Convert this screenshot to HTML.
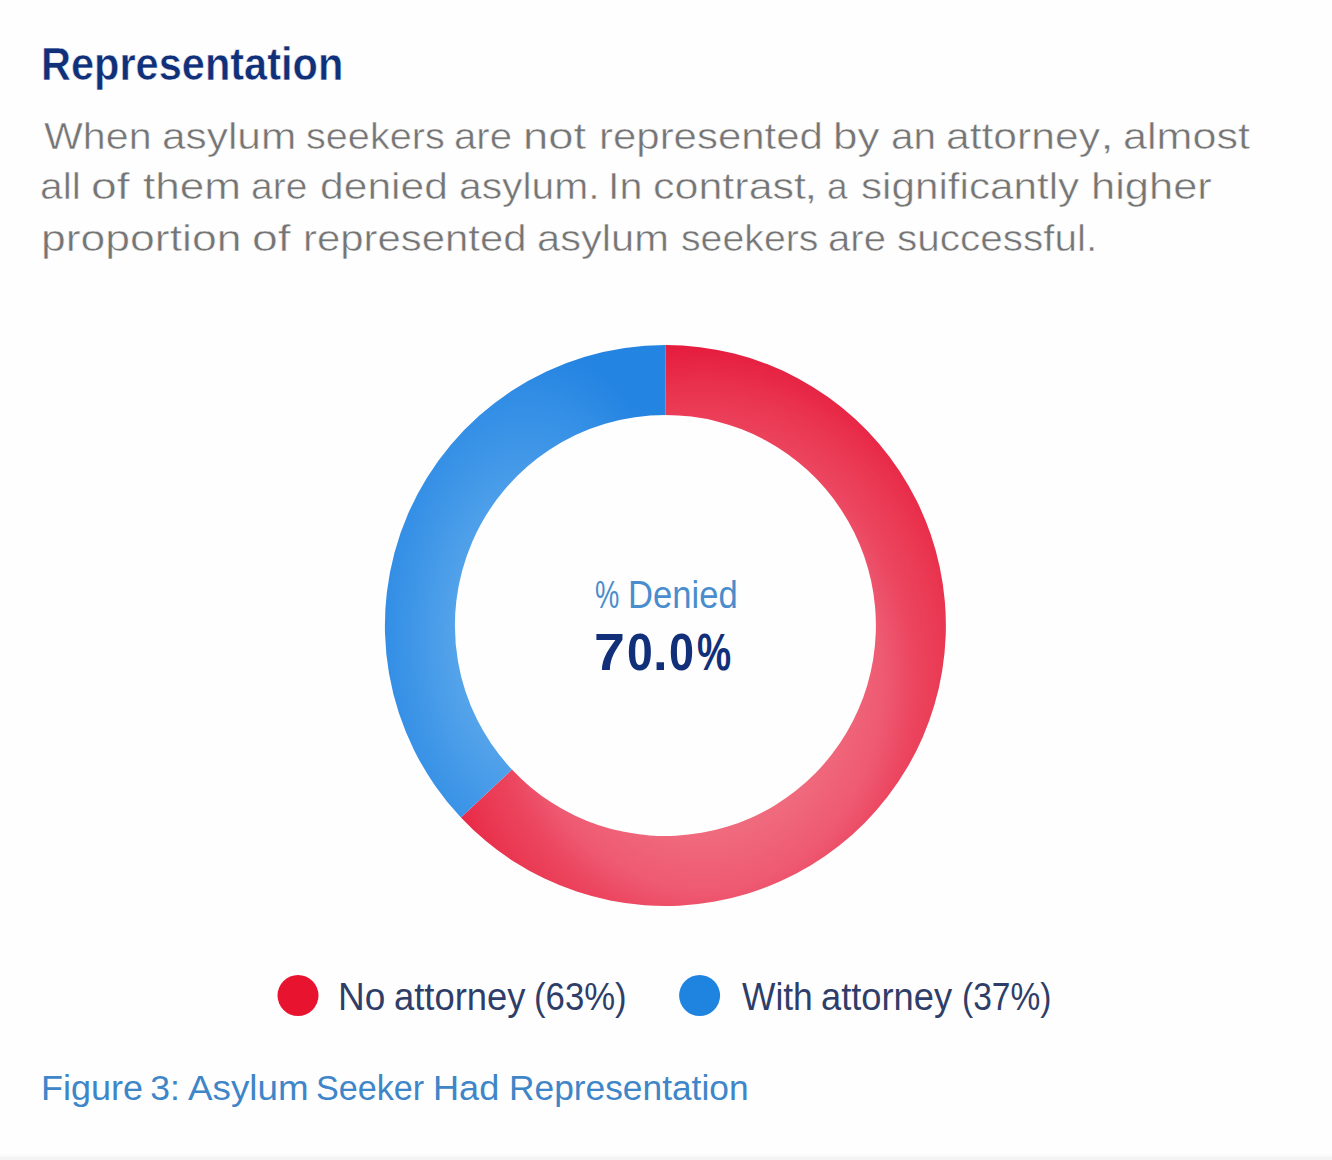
<!DOCTYPE html>
<html>
<head>
<meta charset="utf-8">
<style>
html,body{margin:0;padding:0;}
body{width:1332px;height:1160px;background:#fefefe;position:relative;overflow:hidden;font-family:"Liberation Sans",sans-serif;}
.t{position:absolute;white-space:nowrap;line-height:1;transform-origin:0 0;}
.w{font-size:37.5px;color:#757575;-webkit-text-stroke:0.5px #fefefe;}
.ti{font-size:46px;font-weight:bold;color:#11307a;-webkit-text-stroke:0.5px #fefefe;}
.c1{font-size:38px;color:#4a8dcc;}
.c2{font-size:52px;font-weight:bold;color:#12307a;}
.lg{font-size:38px;color:#2f3e68;}
.cp{font-size:35.5px;color:#3f86c8;}
svg{position:absolute;left:0;top:0;}
</style>
</head>
<body>
<svg width="1332" height="1160" viewBox="0 0 1332 1160">
<defs>
<radialGradient id="gr" cx="0.5" cy="0.6" r="0.6">
<stop offset="0.45" stop-color="#f06a7e"/>
<stop offset="0.62" stop-color="#ee5a72"/>
<stop offset="0.72" stop-color="#ec4660"/>
<stop offset="0.85" stop-color="#ea3650"/>
<stop offset="1" stop-color="#e51c3e"/>
</radialGradient>
<radialGradient id="gb" cx="0.5" cy="0.62" r="0.62">
<stop offset="0.35" stop-color="#58a6eb"/>
<stop offset="0.75" stop-color="#3791e6"/>
<stop offset="1" stop-color="#2484e2"/>
</radialGradient>
<linearGradient id="bar" x1="0" y1="0" x2="0" y2="1">
<stop offset="0" stop-color="#ffffff"/>
<stop offset="0.45" stop-color="#fbfbfb"/>
<stop offset="0.7" stop-color="#f3f3f3"/>
<stop offset="1" stop-color="#f3f3f3"/>
</linearGradient>
</defs>
<rect x="0" y="1152" width="1332" height="8" fill="url(#bar)"/>
<path fill="url(#gr)" d="M665.40 345.00 A280.5 280.5 0 1 1 460.92 817.52 L511.95 769.60 A210.5 210.5 0 1 0 665.40 415.00 Z"/>
<path fill="url(#gb)" d="M460.92 817.52 A280.5 280.5 0 0 1 665.40 345.00 L665.40 415.00 A210.5 210.5 0 0 0 511.95 769.60 Z"/>
<circle cx="298" cy="995.5" r="20.5" fill="#e8132f"/>
<circle cx="699.6" cy="995.5" r="20.5" fill="#1f84e0"/>
</svg>

<div class="t w" style="left:43.6px;top:117.5px;transform:scaleX(1.0979)">When</div>
<div class="t w" style="left:161.54px;top:117.5px;transform:scaleX(1.1298)">asylum</div>
<div class="t w" style="left:306.34px;top:117.5px;transform:scaleX(1.0566)">seekers</div>
<div class="t w" style="left:453.86px;top:117.5px;transform:scaleX(1.0706)">are</div>
<div class="t w" style="left:523.08px;top:117.5px;transform:scaleX(1.21)">not</div>
<div class="t w" style="left:598.86px;top:117.5px;transform:scaleX(1.1189)">represented</div>
<div class="t w" style="left:832.95px;top:117.5px;transform:scaleX(1.173)">by</div>
<div class="t w" style="left:890.64px;top:117.5px;transform:scaleX(1.0811)">an</div>
<div class="t w" style="left:946.23px;top:117.5px;transform:scaleX(1.1361)">attorney</div>
<div class="t w" style="left:1100.35px;top:117.5px;transform:scaleX(1.35)">,</div>
<div class="t w" style="left:1123.1px;top:117.5px;transform:scaleX(1.1491)">almost</div>
<div class="t w" style="left:40.22px;top:168.0px;transform:scaleX(1.0879)">all</div>
<div class="t w" style="left:90.73px;top:168.0px;transform:scaleX(1.2345)">of</div>
<div class="t w" style="left:142.7px;top:168.0px;transform:scaleX(1.1765)">them</div>
<div class="t w" style="left:250.92px;top:168.0px;transform:scaleX(1.0392)">are</div>
<div class="t w" style="left:320.03px;top:168.0px;transform:scaleX(1.1361)">denied</div>
<div class="t w" style="left:458.82px;top:168.0px;transform:scaleX(1.0887)">asylum.</div>
<div class="t w" style="left:607.7px;top:168.0px;transform:scaleX(1.1)">In</div>
<div class="t w" style="left:653.41px;top:168.0px;transform:scaleX(1.1473)">contrast</div>
<div class="t w" style="left:804.1px;top:168.0px;transform:scaleX(1.3)">,</div>
<div class="t w" style="left:827.03px;top:168.0px;transform:scaleX(0.9842)">a</div>
<div class="t w" style="left:861.37px;top:168.0px;transform:scaleX(1.1254)">significantly</div>
<div class="t w" style="left:1090.52px;top:168.0px;transform:scaleX(1.1584)">higher</div>
<div class="t w" style="left:41.23px;top:220.0px;transform:scaleX(1.1867)">proportion</div>
<div class="t w" style="left:251.73px;top:220.0px;transform:scaleX(1.2345)">of</div>
<div class="t w" style="left:302.77px;top:220.0px;transform:scaleX(1.1173)">represented</div>
<div class="t w" style="left:536.78px;top:220.0px;transform:scaleX(1.1105)">asylum</div>
<div class="t w" style="left:680.65px;top:220.0px;transform:scaleX(1.0465)">seekers</div>
<div class="t w" style="left:828.16px;top:220.0px;transform:scaleX(1.0686)">are</div>
<div class="t w" style="left:897.42px;top:220.0px;transform:scaleX(1.0801)">successful.</div>
<div class="t ti" style="left:41.29px;top:41.0px;transform:scaleX(0.9027)">Representation</div>
<div class="t c1" style="left:595.28px;top:575.5px;transform:scaleX(0.7188)">%</div>
<div class="t c1" style="left:628.37px;top:575.5px;transform:scaleX(0.9104)">Denied</div>
<div class="t c2" style="left:594.46px;top:626.3px;transform:scaleX(1.068)">7</div>
<div class="t c2" style="left:626.62px;top:626.3px;transform:scaleX(0.892)">0</div>
<div class="t c2" style="left:653.06px;top:626.3px;transform:scaleX(1.0125)">.</div>
<div class="t c2" style="left:669.47px;top:626.3px;transform:scaleX(0.864)">0</div>
<div class="t c2" style="left:697.46px;top:626.3px;transform:scaleX(0.7386)">%</div>
<div class="t lg" style="left:338.18px;top:977.6px;transform:scaleX(0.975)">No</div>
<div class="t lg" style="left:394.48px;top:977.6px;transform:scaleX(0.9578)">attorney</div>
<div class="t lg" style="left:534.27px;top:977.6px;transform:scaleX(0.9144)">(63%)</div>
<div class="t lg" style="left:742.4px;top:977.6px;transform:scaleX(0.9311)">With</div>
<div class="t lg" style="left:820.99px;top:977.6px;transform:scaleX(0.9548)">attorney</div>
<div class="t lg" style="left:962.34px;top:977.6px;transform:scaleX(0.8814)">(37%)</div>
<div class="t cp" style="left:40.86px;top:1070.6px;transform:scaleX(1.0125)">Figure</div>
<div class="t cp" style="left:150.2px;top:1070.6px;transform:scaleX(1.0)">3:</div>
<div class="t cp" style="left:188.3px;top:1070.6px;transform:scaleX(1.036)">Asylum</div>
<div class="t cp" style="left:315.58px;top:1070.6px;transform:scaleX(0.9618)">Seeker</div>
<div class="t cp" style="left:432.74px;top:1070.6px;transform:scaleX(1.0183)">Had</div>
<div class="t cp" style="left:509.22px;top:1070.6px;transform:scaleX(0.9949)">Representation</div>
</body>
</html>
